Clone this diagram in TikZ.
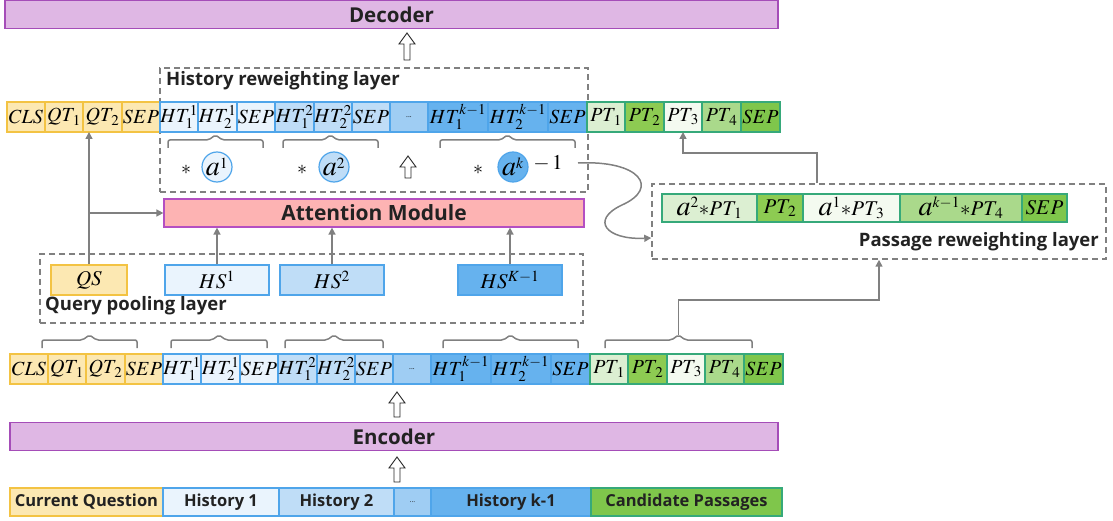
\documentclass[tikz,border=0pt]{standalone}
\usepackage{mathptmx}
\usepackage{fontspec}
\setmainfont{Open Sans}
\usetikzlibrary{positioning,arrows.meta}
\DeclareMathSizes{20}{20}{15}{11}
\DeclareMathSizes{21}{21}{15.5}{11}
\DeclareMathSizes{28}{28}{20}{14}

\definecolor{qfill}{HTML}{FCE8B2}
\definecolor{qline}{HTML}{F3C343}
\definecolor{hA}{HTML}{EAF4FD}
\definecolor{hB}{HTML}{BFDDF7}
\definecolor{hD}{HTML}{9FCDF3}
\definecolor{hC}{HTML}{66B2EE}
\definecolor{hline}{HTML}{4FA5EA}
\definecolor{pA}{HTML}{DCEFD2}
\definecolor{pB}{HTML}{8DCB52}
\definecolor{pC}{HTML}{F4FAF0}
\definecolor{pD}{HTML}{AAD98B}
\definecolor{pE}{HTML}{7FC64B}
\definecolor{pline}{HTML}{36A97A}
\definecolor{codec}{HTML}{DFB7E4}
\definecolor{codecline}{HTML}{A54DB8}
\definecolor{attn}{HTML}{FDB3B3}
\definecolor{attnline}{HTML}{B44FC2}
\definecolor{lgray}{HTML}{808080}
\definecolor{ink}{HTML}{222222}

% a large italic weight letter
\newcommand\biga{\mbox{\fontsize{28}{28}\selectfont$a$}}

\tikzset{
  tok/.style={draw, line width=1.2pt, minimum height=30pt, inner sep=0pt, outer sep=0pt,
              font=\fontsize{20}{20}\selectfont},
  qt/.style={tok, fill=qfill, draw=qline},
  hta/.style={tok, fill=hA, draw=hline},
  htb/.style={tok, fill=hB, draw=hline},
  htd/.style={tok, fill=hD, draw=hline},
  htc/.style={tok, fill=hC, draw=hline},
  pta/.style={tok, fill=pA, draw=pline},
  ptb/.style={tok, fill=pB, draw=pline},
  ptc/.style={tok, fill=pC, draw=pline},
  ptd/.style={tok, fill=pD, draw=pline},
  pte/.style={tok, fill=pE, draw=pline},
  rtok/.style={minimum height=28pt, font=\fontsize{21}{21}\selectfont},
  coder/.style={draw=codecline, fill=codec, line width=1.2pt, minimum height=28pt, inner sep=0pt,
                font=\fontsize{20.5}{20.5}\selectfont\bfseries, text=ink},
  inbox/.style={draw, line width=1.2pt, minimum height=28pt, inner sep=0pt, outer sep=0pt,
                font=\fontsize{16.5}{16.5}\selectfont\bfseries, text=ink},
  dbox/.style={draw=lgray, line width=1.5pt, dash pattern=on 6pt off 4pt, inner sep=0pt},
  lbl/.style={font=\fontsize{18.5}{18.5}\selectfont\bfseries, text=ink, inner sep=0pt},
  arr/.style={draw=lgray, line width=1.5pt, -{Triangle[length=7pt,width=7pt]}},
  brc/.style={draw=lgray, line width=1.5pt, rounded corners=2pt},
  hollow/.style={draw=black!85, fill=white, line width=0.9pt, line join=miter},
  wcirc/.style={circle, draw=hline, line width=1.2pt, minimum size=30pt, inner sep=0pt,
                font=\fontsize{21}{21}\selectfont},
  sbox/.style={draw, line width=1.2pt, minimum height=30pt, inner sep=0pt,
               font=\fontsize{21}{21}\selectfont},
}

% one row of input tokens: name prefix, left x, centre y
\newcommand\tokenrow[3]{%
  \node[qt, anchor=west, minimum width=38pt] (#1cls) at (#2,#3) {$CLS$};
  \node[qt, right=0pt of #1cls, minimum width=38pt] (#1qa) {$QT_{\,1}$};
  \node[qt, right=0pt of #1qa, minimum width=39pt] (#1qb) {$QT_{\,2}$};
  \node[qt, right=0pt of #1qb, minimum width=38pt] (#1qs) {$SEP$};
  \node[hta, right=0pt of #1qs, minimum width=38pt] (#1aa) {$HT^{1}_{1}$};
  \node[hta, right=0pt of #1aa, minimum width=39pt] (#1ab) {$HT^{1}_{2}$};
  \node[hta, right=0pt of #1ab, minimum width=38pt] (#1as) {$SEP$};
  \node[htb, right=0pt of #1as, minimum width=39pt] (#1ba) {$HT^{2}_{1}$};
  \node[htb, right=0pt of #1ba, minimum width=38pt] (#1bb) {$HT^{2}_{2}$};
  \node[htb, right=0pt of #1bb, minimum width=38pt] (#1bs) {$SEP$};
  \node[htd, right=0pt of #1bs, minimum width=38pt] (#1dots) {\fontsize{7}{7}\selectfont ...};
  \node[htc, right=0pt of #1dots, minimum width=60pt] (#1ka) {$HT^{k-1}_{1}$};
  \node[htc, right=0pt of #1ka, minimum width=60pt] (#1kb) {$HT^{k-1}_{2}$};
  \node[htc, right=0pt of #1kb, minimum width=39pt] (#1ks) {$SEP$};
  \node[pta, right=0pt of #1ks, minimum width=38pt] (#1pa) {$PT_{\,1}$};
  \node[ptb, right=0pt of #1pa, minimum width=39pt] (#1pb) {$PT_{\,2}$};
  \node[ptc, right=0pt of #1pb, minimum width=38pt] (#1pc) {$PT_{\,3}$};
  \node[ptd, right=0pt of #1pc, minimum width=39pt] (#1pd) {$PT_{\,4}$};
  \node[pte, right=0pt of #1pd, minimum width=39pt] (#1ps) {$SEP$};
}

% hollow upward arrow: x, bottom y, tip y
\newcommand\hollowup[3]{%
  \draw[hollow] (#1-3,#2) -- (#1-3,#3+11) -- (#1-8,#3+11) -- (#1,#3)
    -- (#1+8,#3+11) -- (#1+3,#3+11) -- (#1+3,#2) -- cycle;}

% bracket over a group of tokens, tip pointing up: name, left x, right x, tip y
\newcommand\groupbrace[4]{%
  \draw[brc] (#2,#4+13) -- (#2,#4+5) -- ({(#2+#3)/2-7},#4+5) -- ({(#2+#3)/2},#4)
    -- ({(#2+#3)/2+7},#4+5) -- (#3,#4+5) -- (#3,#4+13);
  \coordinate (#1) at ({(#2+#3)/2},#4);}

\begin{document}
\begin{tikzpicture}[x=1pt, y=-1pt]
\useasboundingbox (0,0) rectangle (1113,521);

% decoder
\node[coder, minimum width=773pt] (dec) at (391.5,14.5) {Decoder};
\hollowup{407}{60}{33}

% history reweighting layer
\node[dbox, minimum width=428pt, minimum height=124pt] (hbox) at (374,130) {};
\node[lbl, anchor=west] (hlbl) at (166,81) {History reweighting layer};

% reweighted token row
\tokenrow{t}{7}{117}

\groupbrace{tb1}{168}{263}{135}
\groupbrace{tb2}{283}{378}{135}
\groupbrace{tb3}{440}{575}{135}

\node[font=\fontsize{20}{20}\selectfont] (s1) at (186,170) {$*$};
\node[wcirc, fill=hA] (w1) at (217,167) {$\biga^{1}$};
\node[font=\fontsize{20}{20}\selectfont] (s2) at (302,170) {$*$};
\node[wcirc, fill=hB] (w2) at (334,167) {$\biga^{2}$};
\hollowup{408}{178}{156}
\node[font=\fontsize{20}{20}\selectfont] (s3) at (478,170) {$*$};
\node[wcirc, fill=hC] (wk) at (513,167) {$\biga^{k}$};
\node[font=\fontsize{21}{21}\selectfont, inner sep=0pt] (wkm) at (548,163) {$-\,1$};
\coordinate (wout) at (578,163);

% attention module
\node[draw=attnline, fill=attn, line width=1.2pt, minimum width=420pt, minimum height=28pt,
      inner sep=0pt, font=\fontsize{21}{21}\selectfont\bfseries, text=ink] (att) at (374,213) {Attention Module};

% query pooling layer
\node[dbox, minimum width=543pt, minimum height=69pt] (qbox) at (311.5,288.5) {};
\node[lbl, anchor=west] (qlbl) at (45,306) {Query pooling layer};
\node[sbox, fill=qfill, draw=qline, minimum width=76pt] (QS) at (89,280) {$QS$};
\node[sbox, fill=hA, draw=hline, minimum width=104pt] (HS1) at (217,280) {$HS^{1}$};
\node[sbox, fill=hB, draw=hline, minimum width=104pt] (HS2) at (332,280) {$HS^{2}$};
\node[sbox, fill=hC, draw=hline, minimum width=104pt] (HSK) at (510,280) {$HS^{K-1}$};

% passage reweighting layer
\node[dbox, minimum width=454pt, minimum height=75pt] (pbox) at (879,221.5) {};
\node[lbl, anchor=east] (plbl) at (1099,242) {Passage reweighting layer};
\node[pta, rtok, minimum width=95pt, anchor=west] (rp1) at (662,208) {$\biga^{2}{*}PT_{\,1}$};
\node[ptb, rtok, minimum width=46pt, right=0pt of rp1] (rp2) {$PT_{\,2}$};
\node[ptc, rtok, minimum width=97pt, right=0pt of rp2] (rp3) {$\biga^{1}{*}PT_{\,3}$};
\node[ptd, rtok, minimum width=122pt, right=0pt of rp3] (rp4) {$\biga^{k-1}{*}PT_{\,4}$};
\node[pte, rtok, minimum width=45pt, right=0pt of rp4] (rp5) {$SEP$};

% encoder output token row
\groupbrace{bb1}{42}{137}{335}
\groupbrace{bb2}{171}{267}{335}
\groupbrace{bb3}{285}{383}{335}
\groupbrace{bb4}{443}{578}{335}
\groupbrace{bb5}{605}{752}{335}
\tokenrow{b}{10}{369}

% encoder
\hollowup{397}{417}{392}
\node[coder, minimum width=768pt] (enc) at (394,436.5) {Encoder};
\hollowup{397}{482}{457}

% input segments
\node[inbox, fill=qfill, draw=qline, minimum width=153pt] (in1) at (86.5,502) {Current Question};
\node[inbox, fill=hA, draw=hline, minimum width=116pt, right=0pt of in1] (in2) {History 1};
\node[inbox, fill=hB, draw=hline, minimum width=115pt, right=0pt of in2] (in3) {History 2};
\node[inbox, fill=hD, draw=hline, minimum width=37pt, right=0pt of in3] (in4) {\fontsize{7}{7}\selectfont\mdseries ...};
\node[inbox, fill=hC, draw=hline, minimum width=160pt, right=0pt of in4] (in5) {History k-1};
\node[inbox, fill=pE, draw=pline, minimum width=191pt, right=0pt of in5] (in6) {Candidate Passages};

% connectors
\draw[arr] (QS.north) -- (QS.north |- tqb.south);
\draw[arr] (QS.north |- att.west) -- (att.west);
\draw[arr] (HS1.north) -- (HS1.north |- att.south);
\draw[arr] (HS2.north) -- (HS2.north |- att.south);
\draw[arr] (HSK.north) -- (HSK.north |- att.south);
\draw[arr] (wout) .. controls (640,160) and (660,188) .. (622,205)
           .. controls (590,220) and (606,240) .. (pbox.west |- 0,238);
\draw[arr] ([xshift=-62pt]pbox.north) |- ([yshift=-21pt]tpc.south) -- (tpc.south);
\draw[arr] (bb5) -- (bb5 |- 0,300) -| (pbox.south);
\end{tikzpicture}
\end{document}
